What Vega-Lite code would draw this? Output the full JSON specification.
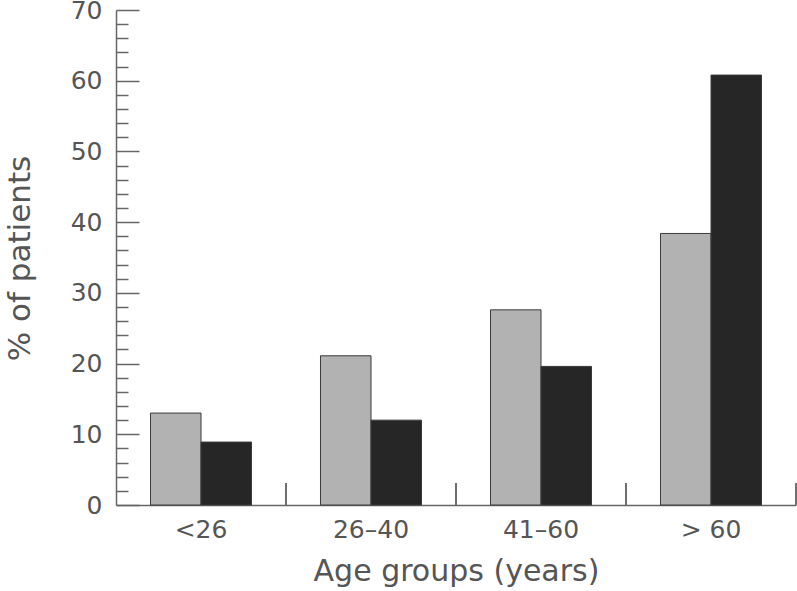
{
  "$schema": "https://vega.github.io/schema/vega-lite/v6.json",
  "width": 680,
  "height": 495,
  "autosize": {"type": "none"},
  "padding": {"left": 116, "top": 10, "right": 1, "bottom": 86},
  "background": "white",
  "config": {"view": {"stroke": null}, "font": "DejaVu Sans"},
  "data": {
    "values": [
      {"group": "<26", "series": "A", "pct": 13},
      {"group": "<26", "series": "B", "pct": 8.9},
      {"group": "26–40", "series": "A", "pct": 21.1},
      {"group": "26–40", "series": "B", "pct": 12},
      {"group": "41–60", "series": "A", "pct": 27.6},
      {"group": "41–60", "series": "B", "pct": 19.6},
      {"group": "> 60", "series": "A", "pct": 38.4},
      {"group": "> 60", "series": "B", "pct": 60.8}
    ]
  },
  "layer": [
    {
      "mark": {"type": "bar", "stroke": "#3a3a3a", "strokeWidth": 1},
      "encoding": {
        "x": {
          "field": "group",
          "type": "nominal",
          "sort": ["<26", "26–40", "41–60", "> 60"],
          "scale": {"paddingInner": 0, "paddingOuter": 0},
          "axis": {
            "title": "Age groups (years)",
            "labelAngle": 0,
            "ticks": false,
            "domain": true,
            "domainColor": "#666",
            "domainWidth": 1.5,
            "labelFontSize": 25,
            "labelColor": "#555",
            "labelPadding": 12,
            "titleFontSize": 30,
            "titleFontWeight": "normal",
            "titleColor": "#555",
            "titlePadding": 14
          }
        },
        "xOffset": {
          "field": "series",
          "type": "nominal",
          "scale": {"paddingInner": 0, "paddingOuter": 0.683}
        },
        "y": {
          "field": "pct",
          "type": "quantitative",
          "scale": {"domain": [0, 70], "nice": false},
          "axis": {
            "title": "% of patients",
            "orient": "left",
            "values": [0, 10, 20, 30, 40, 50, 60, 70],
            "grid": false,
            "domainColor": "#666",
            "domainWidth": 1.5,
            "tickColor": "#666",
            "tickWidth": 1.5,
            "tickSize": -23,
            "labelPadding": 37,
            "labelFontSize": 25,
            "labelColor": "#555",
            "titleFontSize": 31,
            "titleFontWeight": "normal",
            "titleColor": "#555",
            "titlePadding": 34,
            "titleY": 248
          }
        },
        "fill": {
          "field": "series",
          "type": "nominal",
          "scale": {"domain": ["A", "B"], "range": ["#b2b2b2", "#262626"]},
          "legend": null
        }
      }
    },
    {
      "mark": {"type": "rule", "color": "#666", "strokeWidth": 1.5},
      "encoding": {
        "x": {
          "field": "group",
          "type": "nominal",
          "sort": ["<26", "26–40", "41–60", "> 60"],
          "bandPosition": 1
        },
        "y": {
          "datum": 0,
          "type": "quantitative",
          "scale": {"domain": [0, 70], "nice": false},
          "axis": {
            "title": null,
            "orient": "left",
            "values": [2, 4, 6, 8, 12, 14, 16, 18, 22, 24, 26, 28, 32, 34, 36, 38, 42, 44, 46, 48, 52, 54, 56, 58, 62, 64, 66, 68],
            "grid": false,
            "domain": false,
            "labels": false,
            "tickColor": "#666",
            "tickWidth": 1.5,
            "tickSize": -12
          }
        },
        "y2": {"datum": 3.1}
      }
    }
  ],
  "resolve": {"scale": {"y": "independent"}}
}
